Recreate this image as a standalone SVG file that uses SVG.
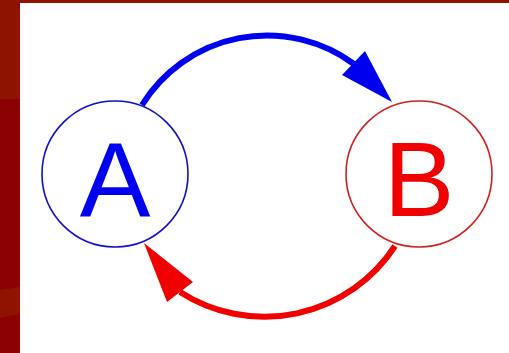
<svg xmlns="http://www.w3.org/2000/svg" width="509" height="353" viewBox="0 0 509 353">
  <style>
    .node-circle { fill: none; stroke-width: 1.6; }
    .label { font-family: "Liberation Sans", Arial, sans-serif; font-size: 106px; text-anchor: middle; }
    .edge { fill: none; stroke-width: 6; }
  </style>
  <rect x="0" y="0" width="509" height="353" fill="#8b0000"/>
  <rect x="0" y="0" width="509" height="99" fill="#8e1300"/>
  <path d="M0,290 L20,287 L20,314 L0,318 Z" fill="#8e1300"/>
  <rect x="20" y="3" width="489" height="350" fill="#ffffff"/>
  <g id="node-A">
    <circle class="node-circle" cx="115" cy="174" r="73" stroke="#1010c8"/>
    <text class="label" x="115" y="216" fill="#0000f0">A</text>
  </g>
  <g id="node-B">
    <circle class="node-circle" cx="419" cy="174" r="73" stroke="#d02020"/>
    <text class="label" x="419" y="216" fill="#f00000">B</text>
  </g>
  <g id="connectors">
    <path class="edge" d="M142,105 A147,147 0 0,1 354,64" stroke="#0000f0"/>
    <polygon points="392,102 365,51 342,75" fill="#0000f0"/>
    <path class="edge" d="M395,246 A156,156 0 0,1 180,292" stroke="#f00000"/>
    <polygon points="144,243 193,282 167,302" fill="#f00000"/>
  </g>
</svg>
